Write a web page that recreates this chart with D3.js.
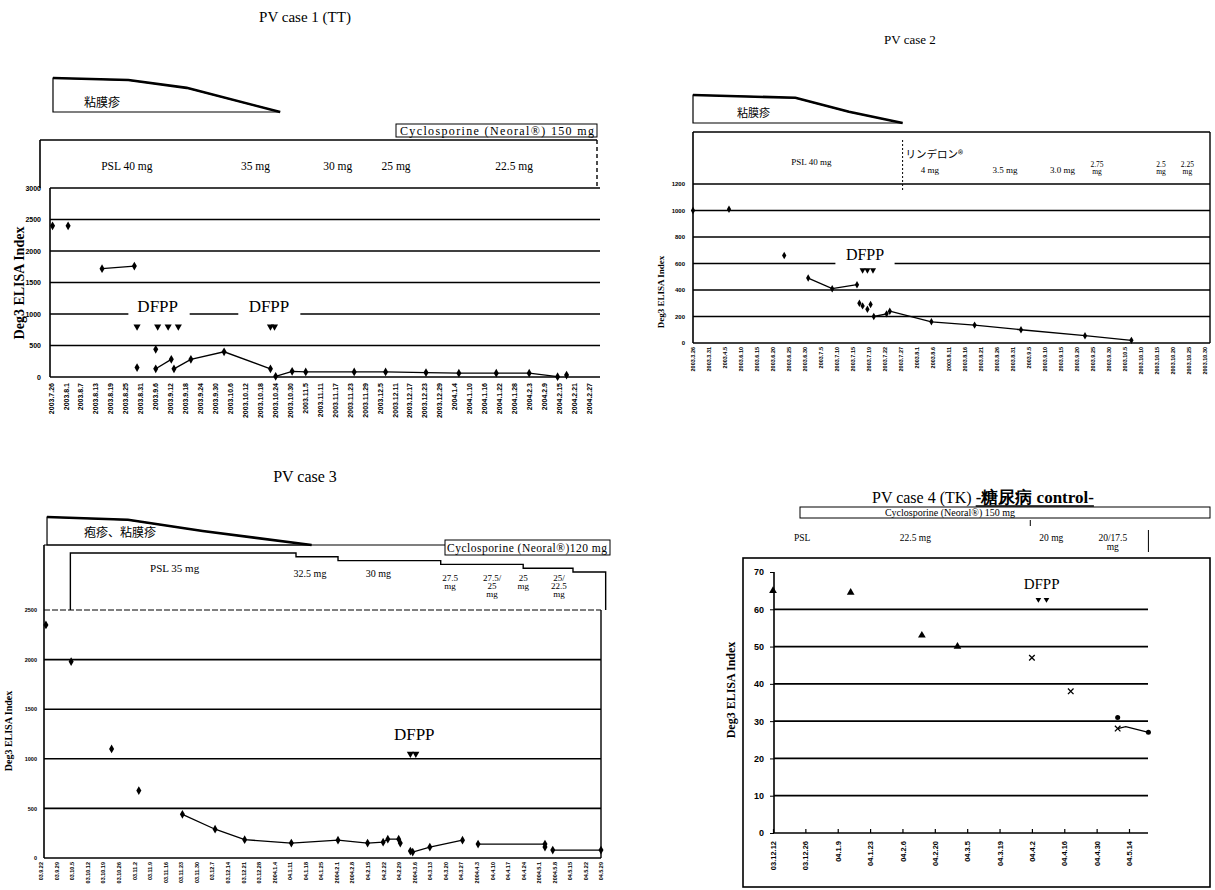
<!DOCTYPE html>
<html>
<head>
<meta charset="utf-8">
<script src="https://cdn.jsdelivr.net/npm/d3@7"></script>
<style>
  body { margin: 0; background: #fff; }
  text { fill: #000; }
</style>
</head>
<body>
<svg id="chart" width="1215" height="890"></svg>
<script>
// ---------- data ----------
const case1Dates = ["2003.7.26","2003.8.1","2003.8.7","2003.8.13","2003.8.19","2003.8.25","2003.8.31",
  "2003.9.6","2003.9.12","2003.9.18","2003.9.24","2003.9.30","2003.10.6","2003.10.12","2003.10.18",
  "2003.10.24","2003.10.30","2003.11.5","2003.11.11","2003.11.17","2003.11.23","2003.11.29","2003.12.5",
  "2003.12.11","2003.12.17","2003.12.23","2003.12.29","2004.1.4","2004.1.10","2004.1.16","2004.1.22",
  "2004.1.28","2004.2.3","2004.2.9","2004.2.15","2004.2.21","2004.2.27"];
const case1YTicks = [0, 500, 1000, 1500, 2000, 2500, 3000];
const case1Segments = [
  [[0.13, 2400]],
  [[1.17, 2400]],
  [[3.44, 1720], [5.6, 1760]],
  [[5.78, 150]],
  [[7.03, 440]],
  [[7.03, 130], [8.07, 280]],
  [[8.25, 130], [9.38, 280], [11.6, 400], [14.7, 130]],
  [[15.05, 10], [16.15, 90], [17.06, 80], [20.3, 80], [22.4, 80], [25.1, 70], [27.3, 60], [29.8, 60], [32.0, 60], [33.9, 5]],
  [[34.5, 30]]
];
const case1Dfpp = [5.78, 7.16, 7.86, 8.54, 14.7, 14.97];
const case1DfppLabels = [7.16, 14.6];
const case1DfppGaps = [[5.2, 9.3], [12.55, 16.7]];
const case1Doses = [["PSL 40 mg", 5.1], ["35 mg", 13.7], ["30 mg", 19.2], ["25 mg", 23.1], ["22.5 mg", 31.0]];
const case1Skin = [[0.16, 1], [5.2, 0.94], [9.1, 0.71], [15.35, 0]];

const case2Dates = ["2003.3.26","2003.3.31","2003.4.5","2003.6.10","2003.6.15","2003.6.20","2003.6.25",
  "2003.6.30","2003.7.5","2003.7.10","2003.7.15","2003.7.19","2003.7.22","2003.7.27","2003.8.1","2003.8.6",
  "2003.8.11","2003.8.16","2003.8.21","2003.8.26","2003.8.31","2003.9.5","2003.9.10","2003.9.15","2003.9.20",
  "2003.9.25","2003.9.30","2003.10.5","2003.10.10","2003.10.15","2003.10.20","2003.10.25","2003.10.30"];
const case2YTicks = [0, 200, 400, 600, 800, 1000, 1200];
const case2Segments = [
  [[0, 1000]],
  [[2.25, 1010]],
  [[5.7, 660]],
  [[7.2, 490], [8.7, 410], [10.25, 440]],
  [[10.4, 300]], [[10.6, 280]], [[10.9, 255]], [[11.1, 290]],
  [[11.3, 200], [12.1, 220]],
  [[12.3, 240], [14.9, 160], [17.6, 135], [20.5, 100], [24.5, 55], [27.4, 20]]
];
const case2Dfpp = [10.6, 10.9, 11.25];
const case2DfppLabel = 10.75;
const case2DfppGap = [[8.9, 12.6]];
const case2Doses = [[["PSL 40 mg"], 7.4], [["4 mg"], 14.8], [["3.5 mg"], 19.5], [["3.0 mg"], 23.1],
  [["2.75", "mg"], 25.25], [["2.5", "mg"], 29.25], [["2.25", "mg"], 30.9]];
const case2Switch = 13.1;
const case2Skin = [[0, 1], [6.4, 0.9], [9.75, 0.4], [13.1, 0]];

const case3Dates = ["03.9.22","03.9.29","03.10.5","03.10.12","03.10.19","03.10.26","03.11.2","03.11.9",
  "03.11.16","03.11.23","03.11.30","03.12.7","03.12.14","03.12.21","03.12.28","2004.1.4","04.1.11","04.1.18",
  "04.1.25","2004.2.1","2004.2.8","04.2.15","04.2.22","04.2.29","2004.3.6","04.3.13","04.3.20","04.3.27",
  "2004.4.3","04.4.10","04.4.17","04.4.24","2004.5.1","2004.5.8","04.5.15","04.5.22","04.5.29"];
const case3YTicks = [0, 500, 1000, 1500, 2000, 2500];
const case3Segments = [
  [[0.33, 2350]],
  [[1.95, 1980]],
  [[4.55, 1100]],
  [[6.3, 680]],
  [[9.1, 440], [11.2, 290], [13.1, 185], [16.1, 150], [19.1, 180], [21, 150], [22, 160], [22.3, 190], [23, 190]],
  [[23.1, 150]],
  [[23.75, 70], [23.9, 60], [25, 110], [27.1, 180]],
  [[28.1, 140], [32.4, 140]],
  [[32.4, 110]],
  [[32.9, 80], [36, 80]]
];
const case3Dfpp = [23.75, 24.1];
const case3DfppLabel = 24;
const case3Doses = [[["PSL 35 mg"], 8.6], [["32.5 mg"], 17.3], [["30 mg"], 21.7], [["27.5", "mg"], 26.3],
  [["27.5/", "25", "mg"], 29], [["25", "mg"], 31], [["25/", "22.5", "mg"], 33.3]];
const case3Steps = [[1.9, 35], [16.4, 32.5], [19.1, 30], [25.7, 27.5], [31, 25], [34.2, 22.5], [36.3, 22.5]];
const case3Skin = [[0.4, 1], [5.6, 0.9], [10.4, 0.5], [17.4, 0]];

const case4Dates = ["03.12.12","03.12.26","04.1.9","04.1.23","04.2.6","04.2.20","04.3.5","04.3.19",
  "04.4.2","04.4.16","04.4.30","04.5.14"];
const case4YTicks = [0, 10, 20, 30, 40, 50, 60, 70];
const case4Triangles = [[0, 65], [2.4, 64.5], [4.6, 53], [5.7, 50]];
const case4Crosses = [[8.0, 47], [9.2, 38], [10.65, 28]];
const case4Dots = [[10.65, 31], [11.6, 27]];
const case4Line = [[10.65, 28], [10.9, 28.5], [11.6, 27]];
const case4Dfpp = [8.2, 8.45];
const case4DfppLabel = 8.3;
const case4Doses = [[["PSL"], 0.9], [["22.5 mg"], 4.4], [["20 mg"], 8.6], [["20/17.5", "mg"], 10.5]];

// ---------- helpers ----------
const serif = '"Liberation Serif","Times New Roman",serif';
const sans = '"Liberation Sans",Arial,sans-serif';
const cjk = '"Noto Sans CJK JP",sans-serif';
const svg = d3.select("#chart");

function txt(g, x, y, s, size, family, weight, anchor) {
  return g.append("text")
    .attr("x", x).attr("y", y)
    .attr("font-size", size)
    .attr("font-family", family || serif)
    .attr("font-weight", weight || "normal")
    .attr("text-anchor", anchor || "middle")
    .text(s);
}

function hline(g, x1, x2, y, w, dash) {
  g.append("line").attr("x1", x1).attr("x2", x2).attr("y1", y).attr("y2", y)
    .attr("stroke", "#000").attr("stroke-width", w || 1.4)
    .attr("stroke-dasharray", dash || null);
}
function vline(g, x, y1, y2, w, dash) {
  g.append("line").attr("x1", x).attr("x2", x).attr("y1", y1).attr("y2", y2)
    .attr("stroke", "#000").attr("stroke-width", w || 1.4)
    .attr("stroke-dasharray", dash || null);
}

function drawSkin(g, x, pts, top, bottom, label, lx, ly, size) {
  const lev = d3.scaleLinear().domain([0, 1]).range([bottom, top]);
  const area = d3.area().x(d => x(d[0])).y0(bottom).y1(d => lev(d[1]));
  g.append("path").datum(pts).attr("d", area)
    .attr("fill", "none").attr("stroke", "#000").attr("stroke-width", 1.2);
  g.append("path").datum(pts).attr("d", d3.line().x(d => x(d[0])).y(d => lev(d[1])))
    .attr("fill", "none").attr("stroke", "#000").attr("stroke-width", 2.6);
  txt(g, lx, ly, label, size, cjk, "normal", "start");
}

function drawStacked(g, x, list, y, size, lh) {
  const step = lh || size;
  list.forEach(([lines, at]) => {
    lines.forEach((s, i) => txt(g, x(at), y + i * step, s, size));
  });
}

function drawPlot(cfg) {
  const g = svg.append("g");
  const n = cfg.dates.length;
  const x = d3.scaleLinear().domain([0, n - 1]).range(cfg.xr);
  const y = d3.scaleLinear().domain([0, cfg.ymax]).range([cfg.y0, cfg.ytop]);

  // gridlines
  cfg.grid.forEach(t => {
    let start = cfg.left;
    if (t === cfg.gapValue) {
      cfg.gaps.forEach(([a, b]) => {
        hline(g, start, x(a), y(t), cfg.gridW);
        start = x(b);
      });
    }
    hline(g, start, cfg.right, y(t), cfg.gridW);
  });

  // y axis labels
  const ya = g.append("g").attr("transform", `translate(${cfg.left},0)`)
    .call(d3.axisLeft(y).tickValues(cfg.yTicks).tickFormat(d3.format("d"))
      .tickSize(cfg.yTickSize || 0).tickPadding(cfg.yPad));
  ya.select(".domain").remove();
  ya.selectAll("line").attr("stroke", "#000");
  ya.selectAll("text").attr("font-family", sans).attr("font-weight", "bold")
    .attr("font-size", cfg.yFont).attr("fill", "#000");

  // x axis labels
  const xa = g.append("g").attr("transform", `translate(0,${cfg.y0})`)
    .call(d3.axisBottom(x).tickValues(d3.range(n)).tickFormat(i => cfg.dates[i])
      .tickSizeInner(cfg.xTickSize || 0).tickSizeOuter(0));
  xa.select(".domain").remove();
  xa.selectAll("line").attr("stroke", "#000").attr("stroke-width", 1.2);
  xa.selectAll("text")
    .attr("transform", "rotate(-90)")
    .attr("text-anchor", "end")
    .attr("x", -cfg.xPad).attr("y", 0).attr("dy", "0.35em")
    .attr("font-family", sans).attr("font-weight", "bold")
    .attr("font-size", cfg.xFont).attr("fill", "#000");

  // axis lines
  vline(g, cfg.left, cfg.y0, cfg.axisTop, 1.6);
  hline(g, cfg.left, cfg.right, cfg.y0, 1.6);

  // y title
  g.append("text")
    .attr("transform", `translate(${cfg.titleX},${cfg.titleY}) rotate(-90)`)
    .attr("text-anchor", "middle")
    .attr("font-family", serif).attr("font-weight", "bold")
    .attr("font-size", cfg.titleFont)
    .text("Deg3 ELISA Index");

  return { g, x, y };
}

function drawSegments(p, segs, size) {
  const line = d3.line().x(d => p.x(d[0])).y(d => p.y(d[1]));
  segs.filter(s => s.length > 1).forEach(s => {
    p.g.append("path").datum(s).attr("d", line)
      .attr("fill", "none").attr("stroke", "#000").attr("stroke-width", 1.3);
  });
  p.g.selectAll(null).data(segs.flat()).join("path")
    .attr("transform", d => `translate(${p.x(d[0])},${p.y(d[1])})`)
    .attr("d", d3.symbol(d3.symbolDiamond, size))
    .attr("fill", "#000");
}

function drawDown(p, xs, v, size) {
  p.g.selectAll(null).data(xs).join("path")
    .attr("transform", d => `translate(${p.x(d)},${p.y(v)}) rotate(180)`)
    .attr("d", d3.symbol(d3.symbolTriangle, size))
    .attr("fill", "#000");
}

// ---------- PV case 1 ----------
(function () {
  const p = drawPlot({
    dates: case1Dates, xr: [50.6, 589], left: 50, right: 600, axisTop: 188,
    ymax: 3000, y0: 377, ytop: 188, yTicks: case1YTicks, grid: [500, 1000, 1500, 2000, 2500, 3000],
    gapValue: 1000, gaps: case1DfppGaps, gridW: 1.6,
    yPad: 9, yFont: 7, xPad: 6, xFont: 7,
    titleX: 24, titleY: 283, titleFont: 14
  });
  const top = svg.append("g");
  txt(top, 305, 22, "PV case 1 (TT)", 15);
  drawSkin(top, p.x, case1Skin, 78, 112, "粘膜疹", 84, 107, 12);
  top.append("rect").attr("x", 396).attr("y", 124).attr("width", 201).attr("height", 13)
    .attr("fill", "none").attr("stroke", "#000").attr("stroke-width", 1);
  txt(top, 497, 135, "Cyclosporine (Neoral®)  150 mg", 12).attr("textLength", 194);
  vline(top, 40, 140, 188, 1.6);
  hline(top, 40, 597, 140, 1.6);
  vline(top, 597, 140, 188, 1.4, "4,3");
  case1Doses.forEach(([s, at]) => txt(top, p.x(at), 170, s, 11.5));
  drawSegments(p, case1Segments, 22);
  drawDown(p, case1Dfpp, 800, 22);
  case1DfppLabels.forEach(at => txt(p.g, p.x(at), p.y(1030), "DFPP", 17));
})();

// ---------- PV case 2 ----------
(function () {
  const p = drawPlot({
    dates: case2Dates, xr: [693, 1205], left: 693, right: 1210, axisTop: 132,
    ymax: 1200, y0: 343, ytop: 184, yTicks: case2YTicks, grid: [200, 400, 600, 800, 1000, 1200],
    gapValue: 600, gaps: case2DfppGap, gridW: 1.5,
    yPad: 8, yFont: 6, xPad: 4, xFont: 5.5,
    titleX: 664, titleY: 292, titleFont: 9
  });
  const top = svg.append("g");
  txt(top, 910, 44, "PV case 2", 13);
  drawSkin(top, p.x, case2Skin, 95, 123, "粘膜疹", 737, 117, 11);
  hline(top, 693, 1210, 132, 1.4);
  vline(top, 1210, 132, 343, 1.4);
  vline(top, p.x(case2Switch), 140, 190, 1, "2,2");
  txt(top, p.x(case2Switch) + 3, 158, "リンデロン®", 10.5, cjk, "normal", "start");
  drawStacked(top, p.x, case2Doses.slice(0, 1), 165, 9);
  drawStacked(top, p.x, case2Doses.slice(1, 4), 173, 9);
  drawStacked(top, p.x, case2Doses.slice(4), 167, 7.5, 7);
  drawSegments(p, case2Segments, 16);
  drawDown(p, case2Dfpp, 550, 16);
  txt(p.g, p.x(case2DfppLabel), p.y(630), "DFPP", 16);
})();

// ---------- PV case 3 ----------
(function () {
  const p = drawPlot({
    dates: case3Dates, xr: [40.8, 601], left: 44, right: 601, axisTop: 545,
    ymax: 2500, y0: 858, ytop: 610, yTicks: case3YTicks, grid: [500, 1000, 1500, 2000],
    gridW: 1.6, yPad: 7, yFont: 5.5, xPad: 4, xFont: 5.5,
    titleX: 12, titleY: 731, titleFont: 10
  });
  hline(p.g, 44, 601, p.y(2500), 1, "6,2");
  vline(p.g, 601, p.y(2500), 858, 1.4);
  const top = svg.append("g");
  txt(top, 305, 482, "PV case 3", 16);
  drawSkin(top, p.x, case3Skin, 517, 545, "疱疹、粘膜疹", 84, 537, 12);
  hline(top, 44, 610, 545, 1.2);
  top.append("rect").attr("x", 445).attr("y", 540).attr("width", 165).attr("height", 15)
    .attr("fill", "#fff").attr("stroke", "#000").attr("stroke-width", 1);
  txt(top, 527, 552, "Cyclosporine (Neoral®)120 mg", 11.5).attr("textLength", 160);
  const dose = d3.scaleLinear().domain([22.5, 35]).range([572, 553]);
  const step = d3.line().curve(d3.curveStepAfter).x(d => p.x(d[0])).y(d => dose(d[1]));
  const last = case3Steps[case3Steps.length - 1];
  top.append("path").datum(case3Steps)
    .attr("d", `M${p.x(case3Steps[0][0])},${p.y(2500)}` + step(case3Steps).replace(/^M/, "L") +
      `L${p.x(last[0])},${p.y(2500)}`)
    .attr("fill", "none").attr("stroke", "#000").attr("stroke-width", 1.4);
  drawStacked(top, p.x, case3Doses.slice(0, 1), 572, 11);
  drawStacked(top, p.x, case3Doses.slice(1, 3), 577, 10);
  drawStacked(top, p.x, case3Doses.slice(3), 581, 9, 8);
  drawSegments(p, case3Segments, 22);
  drawDown(p, case3Dfpp, 1050, 22);
  txt(p.g, p.x(case3DfppLabel), p.y(1190), "DFPP", 17);
})();

// ---------- PV case 4 ----------
(function () {
  const p = drawPlot({
    dates: case4Dates, xr: [773, 1129], left: 774, right: 1148, axisTop: 572,
    ymax: 70, y0: 833, ytop: 572, yTicks: case4YTicks, grid: [10, 20, 30, 40, 50, 60],
    gridW: 1.8, yTickSize: 4, yPad: 6, yFont: 9, xPad: 8, xFont: 7.5, xTickSize: -4,
    titleX: 735, titleY: 690, titleFont: 12
  });
  const top = svg.append("g");
  top.append("rect").attr("x", 743).attr("y", 558).attr("width", 467).attr("height", 329)
    .attr("fill", "none").attr("stroke", "#000").attr("stroke-width", 1.6);
  const t1 = txt(top, 872, 503, "PV case 4 (TK) ", 16, serif, "normal", "start");
  const w1 = t1.node().getComputedTextLength();
  const t2 = txt(top, 872 + w1 + 4, 503, "-糖尿病 control-", 17, serif, "bold", "start");
  const w2 = t2.node().getComputedTextLength();
  hline(top, 872 + w1 + 4, 872 + w1 + 4 + w2, 506, 1.3);
  top.append("rect").attr("x", 800).attr("y", 507).attr("width", 410).attr("height", 11)
    .attr("fill", "none").attr("stroke", "#000").attr("stroke-width", 1);
  txt(top, 950, 516, "Cyclosporine (Neoral®) 150 mg", 10);
  vline(top, p.x(7.95), 520, 526, 1);
  vline(top, p.x(11.6), 530, 552, 1);
  drawStacked(top, p.x, case4Doses, 541, 9.5, 9);

  p.g.append("path").datum(case4Line)
    .attr("d", d3.line().x(d => p.x(d[0])).y(d => p.y(d[1])))
    .attr("fill", "none").attr("stroke", "#000").attr("stroke-width", 1.2);
  p.g.selectAll(null).data(case4Triangles).join("path")
    .attr("transform", d => `translate(${p.x(d[0])},${p.y(d[1])})`)
    .attr("d", d3.symbol(d3.symbolTriangle, 26)).attr("fill", "#000");
  p.g.selectAll(null).data(case4Crosses).join("path")
    .attr("transform", d => `translate(${p.x(d[0])},${p.y(d[1])})`)
    .attr("d", d3.symbol(d3.symbolX, 22)).attr("fill", "none")
    .attr("stroke", "#000").attr("stroke-width", 1.3);
  p.g.selectAll(null).data(case4Dots).join("path")
    .attr("transform", d => `translate(${p.x(d[0])},${p.y(d[1])})`)
    .attr("d", d3.symbol(d3.symbolCircle, 20)).attr("fill", "#000");
  drawDown(p, case4Dfpp, 62.6, 14);
  txt(p.g, p.x(case4DfppLabel), p.y(65.5), "DFPP", 15);
})();
</script>
</body>
</html>
